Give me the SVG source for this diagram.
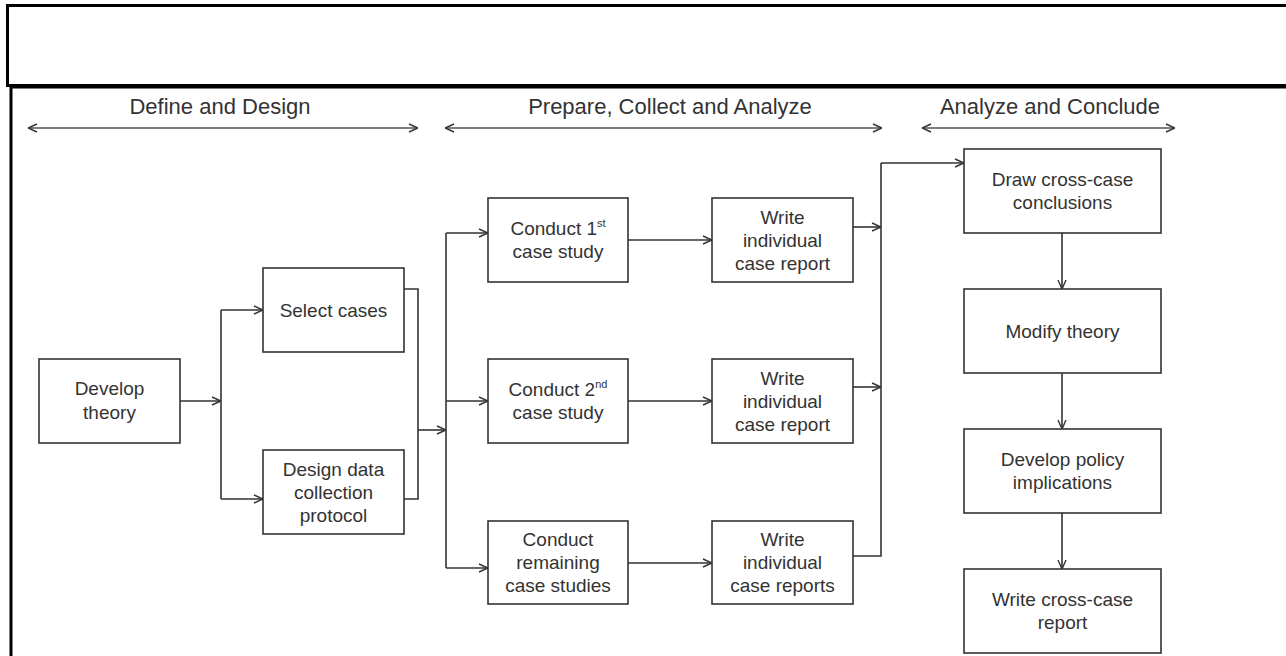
<svg xmlns="http://www.w3.org/2000/svg" width="1286" height="656" viewBox="0 0 1286 656">
<style>
.frame{fill:none;stroke:#000;stroke-width:3}
.box{fill:#fff;stroke:#333;stroke-width:1.6}
.t{font-family:"Liberation Sans",Arial,sans-serif;font-size:19px;fill:#333;text-anchor:middle}
.ph{font-family:"Liberation Sans",Arial,sans-serif;font-size:22px;fill:#333;text-anchor:middle}
.sup{font-size:11px}
.c{fill:none;stroke:#333;stroke-width:1.6}
.pa{fill:none;stroke:#555;stroke-width:1.4}
</style>
<defs>
<marker id="ah" viewBox="0 0 10 10" refX="10" refY="5" markerWidth="10" markerHeight="10" markerUnits="userSpaceOnUse" orient="auto-start-reverse">
<path d="M1,1 L10,5 L1,9" fill="none" stroke="#333" stroke-width="1.4"/>
</marker>
</defs>
<rect width="1286" height="656" fill="#fff"/>
<g id="frame">
<rect class="frame" x="7.5" y="5.5" width="1290" height="80"/>
<line class="frame" x1="10" y1="87" x2="1290" y2="87"/>
<line class="frame" x1="11" y1="86" x2="11" y2="660"/>
</g>
<g id="phases">
<text class="ph" x="220" y="114">Define and Design</text>
<line class="pa" x1="28" y1="128" x2="418" y2="128" marker-start="url(#ah)" marker-end="url(#ah)"/>
<text class="ph" x="670" y="114">Prepare, Collect and Analyze</text>
<line class="pa" x1="445" y1="128" x2="882" y2="128" marker-start="url(#ah)" marker-end="url(#ah)"/>
<text class="ph" x="1050" y="114">Analyze and Conclude</text>
<line class="pa" x1="922" y1="128" x2="1175" y2="128" marker-start="url(#ah)" marker-end="url(#ah)"/>
</g>
<g id="connectors">
<path class="c" d="M180,401 H221" marker-end="url(#ah)"/>
<path class="c" d="M221,310 V499"/>
<path class="c" d="M221,310 H263" marker-end="url(#ah)"/>
<path class="c" d="M221,499 H263" marker-end="url(#ah)"/>
<path class="c" d="M404,289 H418 V499 H404"/>
<path class="c" d="M418,430 H446" marker-end="url(#ah)"/>
<path class="c" d="M446,233 V568"/>
<path class="c" d="M446,233 H488" marker-end="url(#ah)"/>
<path class="c" d="M446,401 H488" marker-end="url(#ah)"/>
<path class="c" d="M446,568 H488" marker-end="url(#ah)"/>
<path class="c" d="M628,240 H712" marker-end="url(#ah)"/>
<path class="c" d="M628,401 H712" marker-end="url(#ah)"/>
<path class="c" d="M628,563 H712" marker-end="url(#ah)"/>
<path class="c" d="M853,227 H881" marker-end="url(#ah)"/>
<path class="c" d="M853,387 H881" marker-end="url(#ah)"/>
<path class="c" d="M853,556 H881 V163"/>
<path class="c" d="M881,163 H964" marker-end="url(#ah)"/>
<path class="c" d="M1062,233 V289" marker-end="url(#ah)"/>
<path class="c" d="M1062,373 V429" marker-end="url(#ah)"/>
<path class="c" d="M1062,513 V569" marker-end="url(#ah)"/>
</g>
<g id="develop-theory">
<rect class="box" x="39" y="359" width="141" height="84"/>
<text class="t" x="109.5" y="395">Develop</text>
<text class="t" x="109.5" y="419">theory</text>
</g>
<g id="select-cases">
<rect class="box" x="263" y="268" width="141" height="84"/>
<text class="t" x="333.5" y="317">Select cases</text>
</g>
<g id="design-protocol">
<rect class="box" x="263" y="450" width="141" height="84"/>
<text class="t" x="333.5" y="476">Design data</text>
<text class="t" x="333.5" y="499">collection</text>
<text class="t" x="333.5" y="522">protocol</text>
</g>
<g id="conduct-1">
<rect class="box" x="488" y="198" width="140" height="84"/>
<text class="t" x="558" y="235">Conduct 1<tspan class="sup" dy="-8">st</tspan></text>
<text class="t" x="558" y="258">case study</text>
</g>
<g id="conduct-2">
<rect class="box" x="488" y="359" width="140" height="84"/>
<text class="t" x="558" y="396">Conduct 2<tspan class="sup" dy="-8">nd</tspan></text>
<text class="t" x="558" y="419">case study</text>
</g>
<g id="conduct-remaining">
<rect class="box" x="488" y="521" width="140" height="83"/>
<text class="t" x="558" y="546">Conduct</text>
<text class="t" x="558" y="569">remaining</text>
<text class="t" x="558" y="592">case studies</text>
</g>
<g id="write-1">
<rect class="box" x="712" y="198" width="141" height="84"/>
<text class="t" x="782.5" y="224">Write</text>
<text class="t" x="782.5" y="247">individual</text>
<text class="t" x="782.5" y="270">case report</text>
</g>
<g id="write-2">
<rect class="box" x="712" y="359" width="141" height="84"/>
<text class="t" x="782.5" y="385">Write</text>
<text class="t" x="782.5" y="408">individual</text>
<text class="t" x="782.5" y="431">case report</text>
</g>
<g id="write-3">
<rect class="box" x="712" y="521" width="141" height="83"/>
<text class="t" x="782.5" y="546">Write</text>
<text class="t" x="782.5" y="569">individual</text>
<text class="t" x="782.5" y="592">case reports</text>
</g>
<g id="draw-conclusions">
<rect class="box" x="964" y="149" width="197" height="84"/>
<text class="t" x="1062.5" y="186">Draw cross-case</text>
<text class="t" x="1062.5" y="209">conclusions</text>
</g>
<g id="modify-theory">
<rect class="box" x="964" y="289" width="197" height="84"/>
<text class="t" x="1062.5" y="338">Modify theory</text>
</g>
<g id="policy-implications">
<rect class="box" x="964" y="429" width="197" height="84"/>
<text class="t" x="1062.5" y="466">Develop policy</text>
<text class="t" x="1062.5" y="489">implications</text>
</g>
<g id="cross-case-report">
<rect class="box" x="964" y="569" width="197" height="84"/>
<text class="t" x="1062.5" y="606">Write cross-case</text>
<text class="t" x="1062.5" y="629">report</text>
</g>
</svg>
